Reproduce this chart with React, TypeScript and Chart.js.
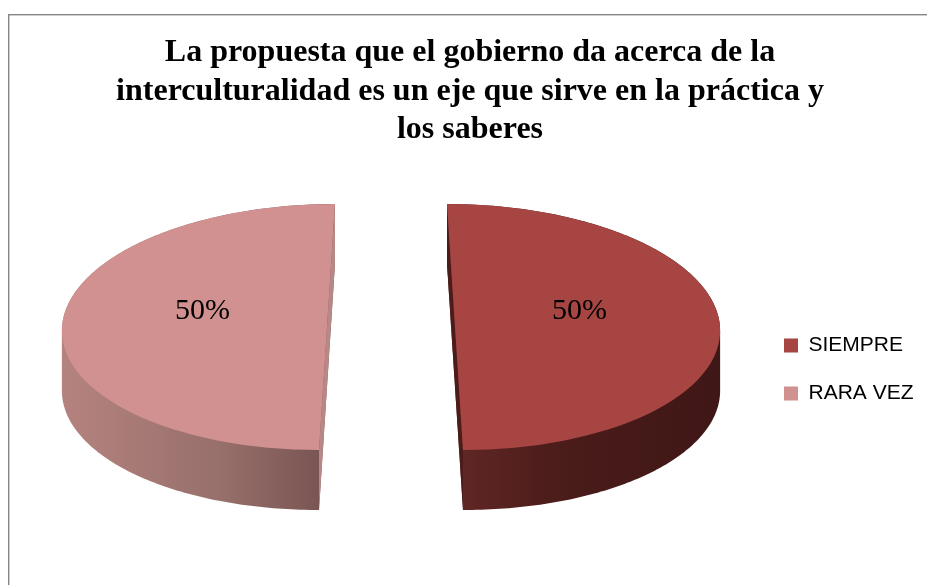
import React, { useEffect, useRef } from 'react';
import { Chart, registerables } from 'chart.js';

Chart.register(...registerables);

const TITLE_LINES = [
  'La propuesta que el gobierno da acerca de la',
  'interculturalidad es un eje que sirve en la práctica y',
  'los saberes',
];
const CATEGORIES = ['SIEMPRE', 'RARA VEZ'];
const VALUES = [50, 50];

const TOP_COLORS = ['#A74542', '#D19190'];
const WALL_CUT_COLORS = ['#612725', '#775351'];
const WALL_MID_COLORS = ['#4A1C1A', '#976F6B'];
const WALL_OUTER_COLORS = ['#3F1716', '#B5837F'];
const FACE_COLORS = ['#4B1C1A', '#B68886'];

const TILT = 0.4642;
const DEPTH = 60;
const SKEW = 0.065;
const RADIUS = 265;
const EXPLODE = 64;
const LABEL_POS = 0.47;
const LABEL_DROP = -8;

function hull(points: number[][]) {
  const p = points.slice().sort((a, b) => a[0] - b[0] || a[1] - b[1]);
  const cross = (o: number[], a: number[], b: number[]) =>
    (a[0] - o[0]) * (b[1] - o[1]) - (a[1] - o[1]) * (b[0] - o[0]);
  const lower: number[][] = [];
  for (const q of p) {
    while (lower.length >= 2 && cross(lower[lower.length - 2], lower[lower.length - 1], q) <= 0) lower.pop();
    lower.push(q);
  }
  const upper: number[][] = [];
  for (let i = p.length - 1; i >= 0; i--) {
    const q = p[i];
    while (upper.length >= 2 && cross(upper[upper.length - 2], upper[upper.length - 1], q) <= 0) upper.pop();
    upper.push(q);
  }
  upper.pop();
  lower.pop();
  return lower.concat(upper);
}

const pie3d = {
  id: 'pie3d',
  beforeDraw(chart: any) {
    const ctx = chart.ctx;
    ctx.save();
    ctx.strokeStyle = '#868686';
    ctx.lineWidth = 1.4;
    ctx.strokeRect(8.7, 14.7, 1200, 1200);
    ctx.restore();
  },
  beforeDatasetDraw(chart: any, args: any) {
    const ctx = chart.ctx;
    const arcs = args.meta.data;
    arcs.forEach((arc: any, i: number) => {
      const { x, y, startAngle, endAngle, outerRadius } = arc;
      const mid = (startAngle + endAngle) / 2;
      const cx = x + Math.cos(mid) * EXPLODE;
      const cy = y + Math.sin(mid) * EXPLODE * TILT;
      const sk = SKEW * Math.cos(mid);
      const map = (u: number, v: number) => [cx + u + sk * TILT * v, cy + TILT * v];
      const n = 180;
      const pts: number[][] = [];
      for (let j = 0; j <= n; j++) {
        const t = startAngle + ((endAngle - startAngle) * j) / n;
        pts.push(map(outerRadius * Math.cos(t), outerRadius * Math.sin(t)));
      }
      pts.push(map(0, 0));
      const h = hull(pts.concat(pts.map((p) => [p[0], p[1] + DEPTH])));
      const dir = Math.cos(mid) >= 0 ? 1 : -1;
      const g = ctx.createLinearGradient(cx, 0, cx + dir * outerRadius, 0);
      g.addColorStop(0, WALL_CUT_COLORS[i]);
      g.addColorStop(0.4, WALL_MID_COLORS[i]);
      g.addColorStop(1, WALL_OUTER_COLORS[i]);
      ctx.save();
      ctx.beginPath();
      h.forEach((p, k) => (k ? ctx.lineTo(p[0], p[1]) : ctx.moveTo(p[0], p[1])));
      ctx.closePath();
      ctx.fillStyle = g;
      ctx.fill();
      const a = pts[0];
      const b = pts[n];
      ctx.beginPath();
      ctx.moveTo(a[0], a[1]);
      ctx.lineTo(b[0], b[1]);
      ctx.lineTo(b[0], b[1] + DEPTH);
      ctx.lineTo(a[0], a[1] + DEPTH);
      ctx.closePath();
      ctx.fillStyle = FACE_COLORS[i];
      ctx.fill();
      ctx.translate(cx, cy);
      ctx.transform(1, 0, sk * TILT, TILT, 0, 0);
      ctx.translate(-x, -y);
      arc.draw(ctx);
      ctx.restore();
    });
    return false;
  },
  afterDatasetsDraw(chart: any) {
    const ctx = chart.ctx;
    const meta = chart.getDatasetMeta(0);
    const total = VALUES.reduce((s, v) => s + v, 0);
    ctx.save();
    ctx.font = '30px "Liberation Serif", "Times New Roman", serif';
    ctx.fillStyle = '#000';
    ctx.textAlign = 'center';
    ctx.textBaseline = 'alphabetic';
    meta.data.forEach((arc: any, i: number) => {
      const mid = (arc.startAngle + arc.endAngle) / 2;
      const d = EXPLODE + arc.outerRadius * LABEL_POS;
      const tx = arc.x + Math.cos(mid) * d;
      const ty = arc.y + Math.sin(mid) * d * TILT + LABEL_DROP;
      ctx.fillText(Math.round((VALUES[i] / total) * 100) + '%', tx, ty);
    });
    ctx.restore();
  },
};

export default function App() {
  const ref = useRef<HTMLCanvasElement | null>(null);
  useEffect(() => {
    if (!ref.current) return;
    const chart = new Chart(ref.current, {
      type: 'pie',
      data: {
        labels: CATEGORIES,
        datasets: [
          {
            data: VALUES,
            backgroundColor: TOP_COLORS,
            borderWidth: 0,
            hoverOffset: 0,
          },
        ],
      },
      options: {
        responsive: false,
        animation: false,
        events: [],
        radius: RADIUS,
        layout: { padding: { top: 0, bottom: 80.2, left: 25, right: 12 } },
        plugins: {
          title: {
            display: true,
            text: TITLE_LINES,
            color: '#000',
            font: { family: '"Liberation Serif", "Times New Roman", serif', size: 32, weight: 'bold', lineHeight: 1.2 },
            padding: { top: 34, bottom: 0 },
          },
          legend: {
            position: 'right',
            fullSize: false,
            maxWidth: 158,
            title: { display: true, text: '', padding: { top: 75, bottom: 0 }, font: { size: 10, lineHeight: 1 } },
            labels: {
              boxWidth: 14,
              boxHeight: 14,
              padding: 27,
              color: '#000',
              font: { family: '"Liberation Sans", Arial, sans-serif', size: 21 },
            },
          },
          tooltip: { enabled: false },
        },
      } as any,
      plugins: [pie3d as any],
    });
    return () => chart.destroy();
  }, []);
  return (
    <div style={{ position: 'fixed', left: 0, top: 0, width: 927, height: 585 }}>
      <canvas ref={ref} width={927} height={585} style={{ display: 'block' }} />
    </div>
  );
}
